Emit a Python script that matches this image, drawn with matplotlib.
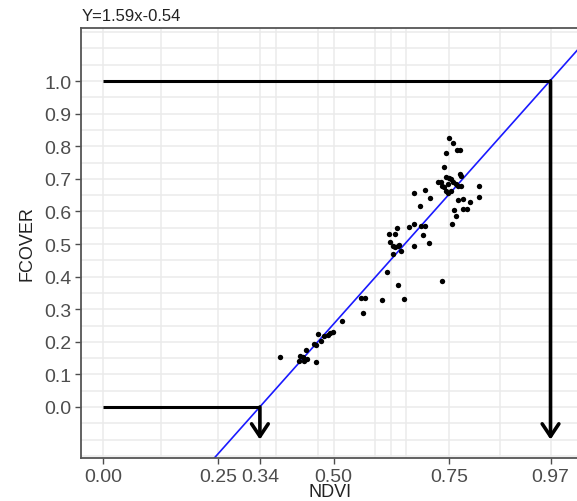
import matplotlib
matplotlib.use("Agg")
import matplotlib.pyplot as plt
import numpy as np

plt.rcParams['font.family'] = ['Liberation Sans', 'DejaVu Sans']

# Data
ndvi = [0.750, 0.759, 0.767, 0.774, 0.743, 0.739, 0.743, 0.750, 0.754, 0.774,
        0.776, 0.726, 0.733, 0.735, 0.739, 0.748, 0.743, 0.748, 0.754, 0.759,
        0.765, 0.770, 0.776, 0.815, 0.674, 0.698, 0.709, 0.770, 0.780, 0.815,
        0.796, 0.687, 0.761, 0.780, 0.789, 0.765, 0.757, 0.620, 0.633, 0.637,
        0.674, 0.663, 0.689, 0.698, 0.693, 0.622, 0.628, 0.633, 0.639, 0.641,
        0.646, 0.628, 0.674, 0.707, 0.615, 0.639, 0.735, 0.652, 0.604, 0.559,
        0.567, 0.563, 0.517, 0.498, 0.493, 0.487, 0.478, 0.472, 0.465, 0.461,
        0.457, 0.439, 0.428, 0.433, 0.424, 0.435, 0.443, 0.461, 0.383]
fcover = [0.825, 0.810, 0.788, 0.788, 0.779, 0.736, 0.706, 0.702, 0.699, 0.715,
          0.709, 0.690, 0.690, 0.678, 0.675, 0.684, 0.663, 0.656, 0.663, 0.690,
          0.684, 0.678, 0.678, 0.678, 0.656, 0.666, 0.641, 0.635, 0.638, 0.644,
          0.629, 0.617, 0.604, 0.607, 0.607, 0.586, 0.561, 0.531, 0.531, 0.549,
          0.561, 0.552, 0.555, 0.555, 0.528, 0.506, 0.494, 0.491, 0.494, 0.497,
          0.479, 0.469, 0.494, 0.503, 0.414, 0.374, 0.387, 0.331, 0.328, 0.334,
          0.334, 0.288, 0.264, 0.230, 0.227, 0.221, 0.218, 0.202, 0.224, 0.190,
          0.193, 0.175, 0.156, 0.153, 0.141, 0.141, 0.147, 0.138, 0.153]

slope = 1.59
intercept = -0.54
x_ticks = [0.00, 0.25, 0.34, 0.50, 0.75, 0.97]
x_tick_labels = ['0.00', '0.25', '0.34', '0.50', '0.75', '0.97']
x_minor_grid = [0.125, 0.375, 0.467, 0.59, 0.625, 0.657, 0.86]
y_ticks = [round(0.1 * i, 1) for i in range(11)]
y_tick_labels = ['%.1f' % v for v in y_ticks]
ndvi_low, ndvi_high = 0.34, 0.97
fc_low, fc_high = 0.0, 1.0
arrow_end = -0.1

fig = plt.figure(figsize=(5.77, 5.02), dpi=100)
ax = fig.add_axes([0.1404, 0.0857, 0.8620, 0.8565])
xlim = (-0.0478, 1.0304)
ylim = (-0.1564, 1.1626)
ax.set_xlim(*xlim)
ax.set_ylim(*ylim)

grid_c = '#ebebeb'
for gx in x_ticks + x_minor_grid:
    ax.axvline(gx, color=grid_c, lw=1.1, zorder=0)
for gy in np.arange(-0.15, 1.2, 0.05):
    ax.axhline(gy, color=grid_c, lw=1.1, zorder=0)

ax.scatter(ndvi, fcover, s=15, color='black', zorder=3, linewidths=0)

xx = np.array(xlim)
ax.plot(xx, slope * xx + intercept, color='#1a1aff', lw=1.2, zorder=2)

# reference lines with arrows
ax.plot([0, ndvi_low], [fc_low, fc_low], color='black', lw=2.2, zorder=4,
        solid_capstyle='butt')
ax.plot([0, ndvi_high], [fc_high, fc_high], color='black', lw=2.2, zorder=4,
        solid_capstyle='butt')
for xv, yv in [(ndvi_low, fc_low), (ndvi_high, fc_high)]:
    ax.annotate('', xy=(xv, arrow_end), xytext=(xv, yv),
                arrowprops=dict(arrowstyle='->,head_length=0.9,head_width=0.6',
                                color='black', lw=2.6, shrinkA=0, shrinkB=0,
                                mutation_scale=10),
                zorder=4)

ax.set_xticks(x_ticks)
ax.set_xticklabels(x_tick_labels)
ax.set_yticks(y_ticks)
ax.set_yticklabels(y_tick_labels)
ax.tick_params(axis='both', colors='#4d4d4d', labelsize=14, length=4, width=1)
ax.tick_params(axis='x', pad=3)
ax.tick_params(axis='y', pad=3)

for side in ['top', 'bottom', 'left']:
    ax.spines[side].set_color('#555555')
    ax.spines[side].set_linewidth(1.3)
ax.spines['right'].set_visible(False)

ax.set_xlabel('NDVI', fontsize=13, color='#222222', labelpad=-1)
ax.set_ylabel('FCOVER', fontsize=13, color='#222222', labelpad=6)
fig.text(0.142, 0.967, 'Y=1.59x-0.54', fontsize=12, color='#222222',
         ha='left', va='center')

fig.savefig('out.png', dpi=100)
